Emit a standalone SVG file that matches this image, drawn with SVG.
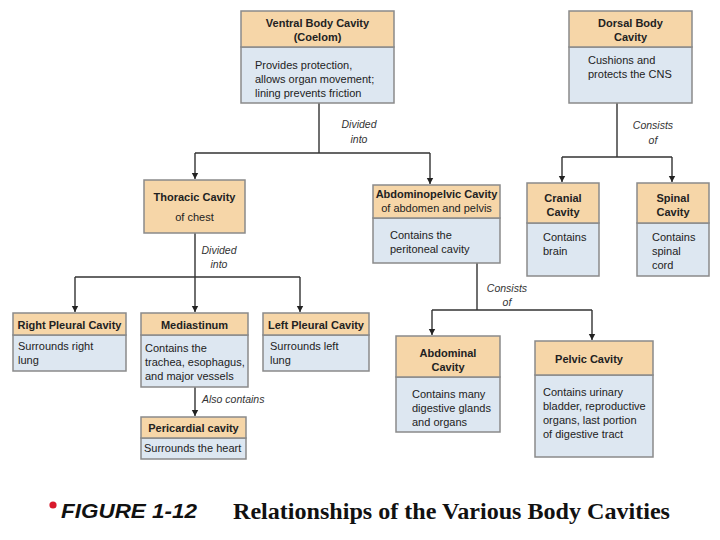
<svg xmlns="http://www.w3.org/2000/svg" width="720" height="540" viewBox="0 0 720 540">
<defs>
<marker id="arr" markerWidth="8" markerHeight="8" refX="6" refY="4" orient="auto" markerUnits="userSpaceOnUse">
<path d="M0,0.8 L6,4 L0,7.2 Z" fill="#222"/>
</marker>
<style>
.h{fill:#F6D6A8;stroke:#8a8a8a;stroke-width:1.5}
.b{fill:#DDE7F1;stroke:#8a8a8a;stroke-width:1.5}
.t{font-family:"Liberation Sans",Arial,sans-serif;font-size:11px;fill:#222}
.hb{font-family:"Liberation Sans",Arial,sans-serif;font-size:11px;font-weight:bold;fill:#222;text-anchor:middle}
.c{font-family:"Liberation Sans",Arial,sans-serif;font-size:10.5px;font-style:italic;fill:#333;text-anchor:middle}
.l{fill:none;stroke:#333;stroke-width:1.4}
</style>
</defs>
<rect width="720" height="540" fill="#fff"/>

<g id="connectors">
<path class="l" d="M319,103 V153 M195,153 H430"/>
<path class="l" d="M195,153 V179" marker-end="url(#arr)"/>
<path class="l" d="M430,153 V184" marker-end="url(#arr)"/>
<path class="l" d="M617,103 V157 M562,157 H672" />
<path class="l" d="M562,157 V182" marker-end="url(#arr)"/>
<path class="l" d="M672,157 V182" marker-end="url(#arr)"/>
<path class="l" d="M75,277 H300"/>
<path class="l" d="M195,233 V312" marker-end="url(#arr)"/>
<path class="l" d="M75,277 V312" marker-end="url(#arr)"/>
<path class="l" d="M300,277 V312" marker-end="url(#arr)"/>
<path class="l" d="M477,263 V310 M432,310 H592"/>
<path class="l" d="M432,310 V335" marker-end="url(#arr)"/>
<path class="l" d="M592,310 V340" marker-end="url(#arr)"/>
<path class="l" d="M195,387 V416" marker-end="url(#arr)"/>
<text class="c" x="359" y="128">Divided</text>
<text class="c" x="359" y="143">into</text>
<text class="c" x="653" y="129">Consists</text>
<text class="c" x="653" y="144">of</text>
<text class="c" x="219" y="254">Divided</text>
<text class="c" x="219" y="268">into</text>
<text class="c" x="507" y="292">Consists</text>
<text class="c" x="507" y="306">of</text>
<text class="c" x="202" y="403" style="text-anchor:start">Also contains</text>
</g>

<g id="ventral">
<rect class="b" x="241" y="47" width="153" height="56"/>
<rect class="h" x="241" y="11" width="153" height="36"/>
<text class="hb" x="317.5" y="27">Ventral Body Cavity</text>
<text class="hb" x="317.5" y="41">(Coelom)</text>
<text class="t" x="255" y="69">Provides protection,</text>
<text class="t" x="255" y="83">allows organ movement;</text>
<text class="t" x="255" y="97">lining prevents friction</text>
</g>

<g id="dorsal">
<rect class="b" x="569" y="47" width="123" height="56"/>
<rect class="h" x="569" y="11" width="123" height="36"/>
<text class="hb" x="630.5" y="27">Dorsal Body</text>
<text class="hb" x="630.5" y="41">Cavity</text>
<text class="t" x="588" y="64">Cushions and</text>
<text class="t" x="588" y="78">protects the CNS</text>
</g>

<g id="thoracic">
<rect class="h" x="144" y="180" width="101" height="53"/>
<text class="hb" x="194.5" y="201">Thoracic Cavity</text>
<text class="t" x="194.5" y="221" text-anchor="middle">of chest</text>
</g>

<g id="abdominopelvic">
<rect class="b" x="373" y="218" width="127" height="45"/>
<rect class="h" x="373" y="185" width="127" height="33"/>
<text class="hb" x="436.5" y="198">Abdominopelvic Cavity</text>
<text class="t" x="436.5" y="212" text-anchor="middle">of abdomen and pelvis</text>
<text class="t" x="390" y="239">Contains the</text>
<text class="t" x="390" y="253">peritoneal cavity</text>
</g>

<g id="cranial">
<rect class="b" x="527" y="223" width="72" height="53"/>
<rect class="h" x="527" y="183" width="72" height="40"/>
<text class="hb" x="563" y="202">Cranial</text>
<text class="hb" x="563" y="216">Cavity</text>
<text class="t" x="543" y="241">Contains</text>
<text class="t" x="543" y="255">brain</text>
</g>

<g id="spinal">
<rect class="b" x="637" y="223" width="72" height="53"/>
<rect class="h" x="637" y="183" width="72" height="40"/>
<text class="hb" x="673" y="202">Spinal</text>
<text class="hb" x="673" y="216">Cavity</text>
<text class="t" x="652" y="241">Contains</text>
<text class="t" x="652" y="255">spinal</text>
<text class="t" x="652" y="269">cord</text>
</g>

<g id="right-pleural">
<rect class="b" x="13" y="335" width="113" height="36"/>
<rect class="h" x="13" y="313" width="113" height="22"/>
<text class="hb" x="69.5" y="329">Right Pleural Cavity</text>
<text class="t" x="18" y="350">Surrounds right</text>
<text class="t" x="18" y="364">lung</text>
</g>

<g id="mediastinum">
<rect class="b" x="141" y="335" width="107" height="52"/>
<rect class="h" x="141" y="313" width="107" height="22"/>
<text class="hb" x="194.5" y="329">Mediastinum</text>
<text class="t" x="145" y="352">Contains the</text>
<text class="t" x="145" y="366">trachea, esophagus,</text>
<text class="t" x="145" y="380">and major vessels</text>
</g>

<g id="left-pleural">
<rect class="b" x="263" y="335" width="106" height="36"/>
<rect class="h" x="263" y="313" width="106" height="22"/>
<text class="hb" x="316" y="329">Left Pleural Cavity</text>
<text class="t" x="270" y="350">Surrounds left</text>
<text class="t" x="270" y="364">lung</text>
</g>

<g id="pericardial">
<rect class="b" x="141" y="438" width="105" height="21"/>
<rect class="h" x="141" y="417" width="105" height="21"/>
<text class="hb" x="193.5" y="432">Pericardial cavity</text>
<text class="t" x="144" y="452">Surrounds the heart</text>
</g>

<g id="abdominal">
<rect class="b" x="396" y="377" width="104" height="55"/>
<rect class="h" x="396" y="336" width="104" height="41"/>
<text class="hb" x="448" y="357">Abdominal</text>
<text class="hb" x="448" y="371">Cavity</text>
<text class="t" x="412" y="398">Contains many</text>
<text class="t" x="412" y="412">digestive glands</text>
<text class="t" x="412" y="426">and organs</text>
</g>

<g id="pelvic">
<rect class="b" x="535" y="375" width="118" height="82"/>
<rect class="h" x="535" y="341" width="118" height="34"/>
<text class="hb" x="589" y="363">Pelvic Cavity</text>
<text class="t" x="543" y="396">Contains urinary</text>
<text class="t" x="543" y="410">bladder, reproductive</text>
<text class="t" x="543" y="424">organs, last portion</text>
<text class="t" x="543" y="438">of digestive tract</text>
</g>

<g id="caption">
<circle cx="53" cy="505" r="3.6" fill="#d8192c"/>
<text x="61" y="518" font-family="'Liberation Sans',Arial,sans-serif" font-size="20" font-weight="bold" font-style="italic" fill="#111" textLength="136" lengthAdjust="spacingAndGlyphs">FIGURE 1-12</text>
<text x="233" y="519" font-family="'Liberation Serif','Times New Roman',serif" font-size="24" font-weight="bold" fill="#111" textLength="437" lengthAdjust="spacingAndGlyphs">Relationships of the Various Body Cavities</text>
</g>
</svg>
